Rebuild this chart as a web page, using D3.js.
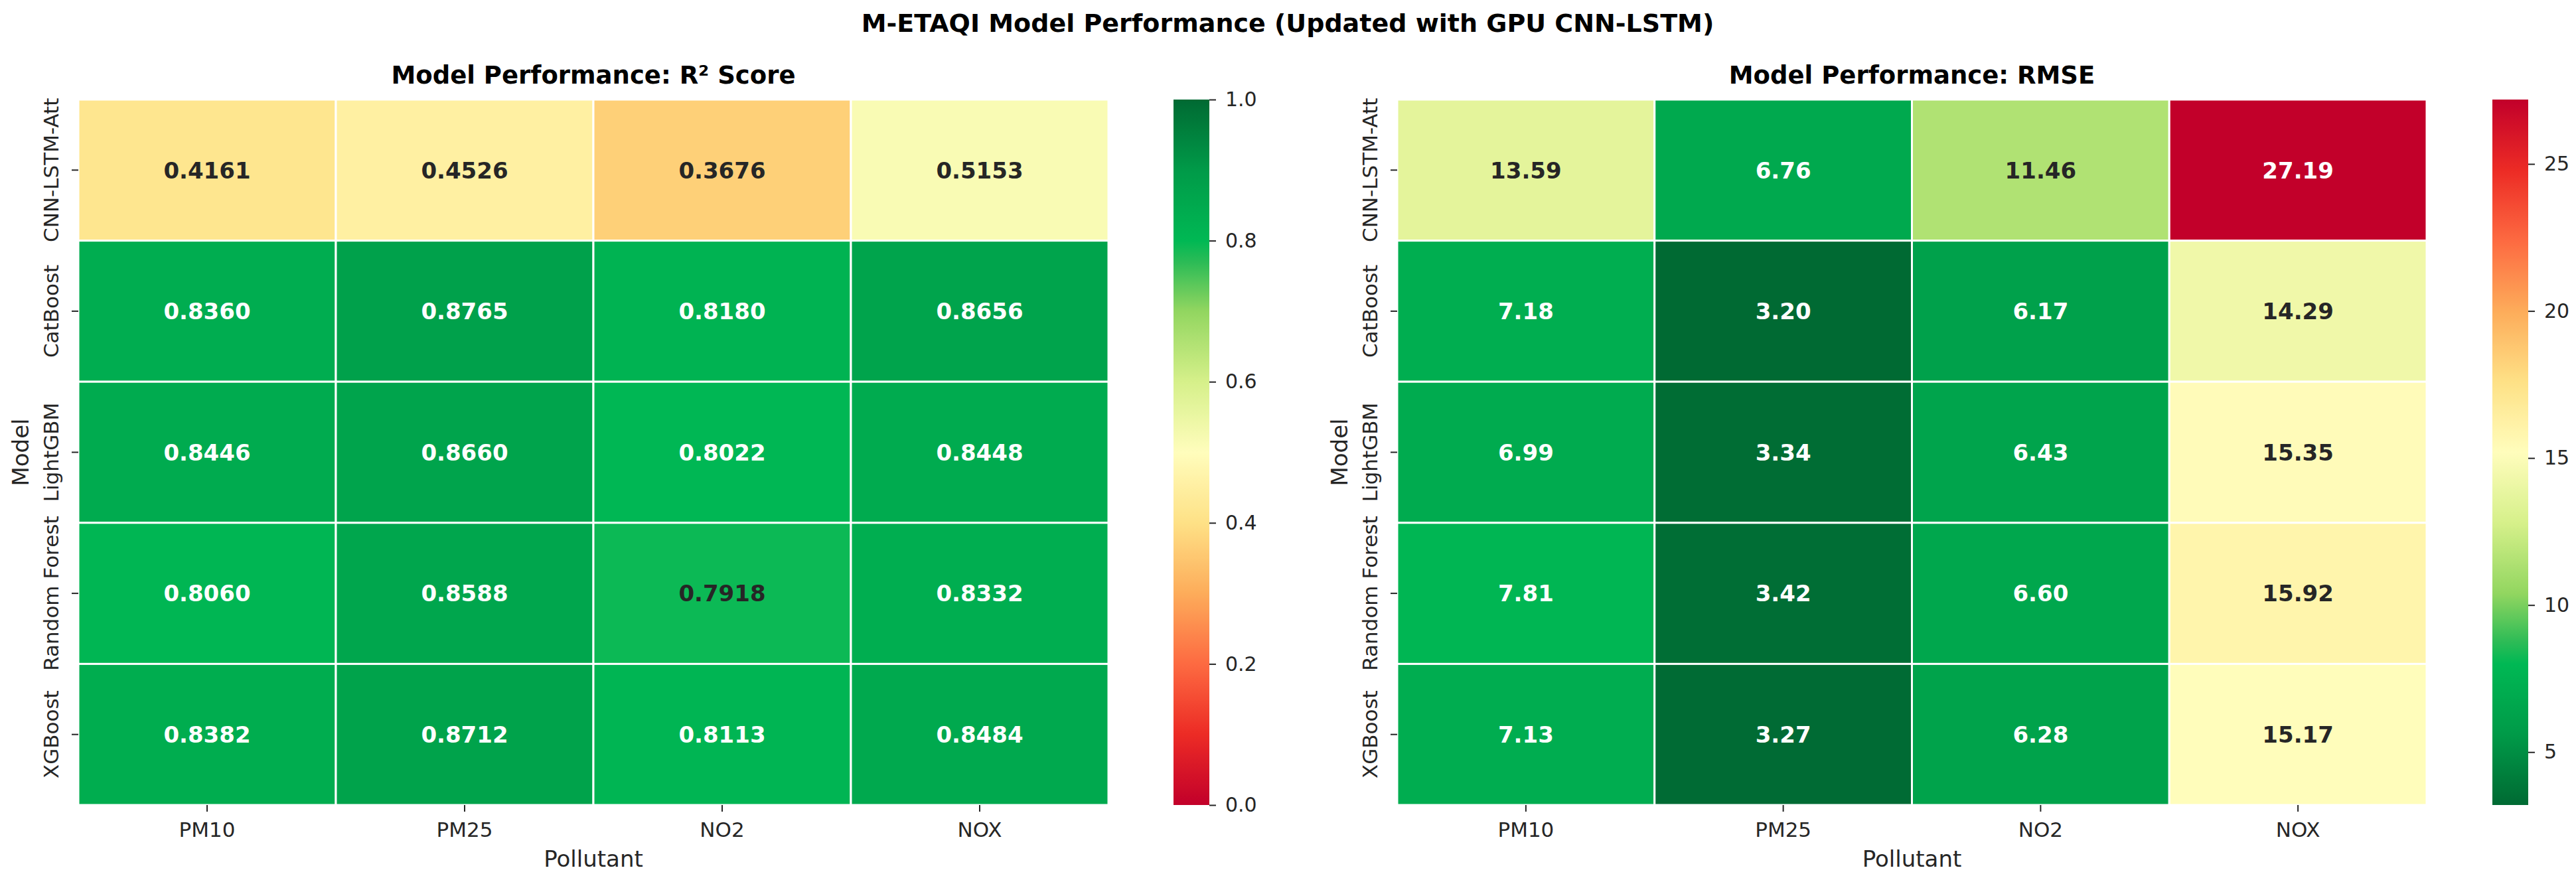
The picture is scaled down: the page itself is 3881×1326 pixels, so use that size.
<!DOCTYPE html>
<html><head><meta charset="utf-8">
<script src="https://cdn.jsdelivr.net/npm/d3@7"></script>
<style>
body{margin:0;background:#fff}
svg{display:block}
text{font-family:"DejaVu Sans",sans-serif}
</style>
</head><body>
<svg id="chart" width="3881" height="1326"></svg>
<script>
// ---------- DATA ----------
const models = ["CNN-LSTM-Att", "CatBoost", "LightGBM", "Random Forest", "XGBoost"];
const pollutants = ["PM10", "PM25", "NO2", "NOX"];
const r2Values = [
  [0.4161, 0.4526, 0.3676, 0.5153],
  [0.8360, 0.8765, 0.8180, 0.8656],
  [0.8446, 0.8660, 0.8022, 0.8448],
  [0.8060, 0.8588, 0.7918, 0.8332],
  [0.8382, 0.8712, 0.8113, 0.8484]
];
const rmseValues = [
  [13.59, 6.76, 11.46, 27.19],
  [7.18, 3.20, 6.17, 14.29],
  [6.99, 3.34, 6.43, 15.35],
  [7.81, 3.42, 6.60, 15.92],
  [7.13, 3.27, 6.28, 15.17]
];
const r2Ticks = [0.0, 0.2, 0.4, 0.6, 0.8, 1.0];
const rmseTicks = [5, 10, 15, 20, 25];
const suptitle = "M-ETAQI Model Performance (Updated with GPU CNN-LSTM)";
const titles = ["Model Performance: R\u00B2 Score", "Model Performance: RMSE"];
const xLabel = "Pollutant";
const yLabel = "Model";

// ---------- COLOR ----------
// RdYlGn reference stops (used for annotation colour choice, as seaborn does)
const baseStops = ["#a50026","#d73027","#f46d43","#fdae61","#fee08b","#ffffbf","#d9ef8b","#a6d96a","#66bd63","#1a9850","#006837"];
const baseBreaks = d3.range(11).map(i => i / 10);
// colours as they appear in the picture
const shownStops = ["#c2002a","#ec2b25","#fd6a41","#fdac5a","#fee186","#fffdbc","#d6f08a","#92d660","#2bbb56","#00b854","#009a48","#006a33"];
const shownBreaks = [0, 0.1, 0.2, 0.3, 0.4, 0.5, 0.6, 0.7, 0.77, 0.8, 0.9, 1];
const baseScale = d3.scaleLinear().domain(baseBreaks).range(baseStops).interpolate(d3.interpolateRgb).clamp(true);
const shownScale = d3.scaleLinear().domain(shownBreaks).range(shownStops).interpolate(d3.interpolateRgb).clamp(true);
function lum(c) {
  const r = d3.rgb(c);
  const f = v => { v /= 255; return v <= 0.03928 ? v / 12.92 : Math.pow((v + 0.055) / 1.055, 2.4); };
  return 0.2126 * f(r.r) + 0.7152 * f(r.g) + 0.0722 * f(r.b);
}

const svg = d3.select("#chart");

svg.append("text").attr("x", 1940).attr("y", 48).attr("text-anchor", "middle")
  .attr("font-size", 38).attr("font-weight", "bold").attr("fill", "#000").text(suptitle);

const yTop = 150, yBottom = 1213;
const panels = [
  {x0: 118, x1: 1670, cb0: 1768, values: r2Values, vmin: 0, vmax: 1, reverse: false,
   ticks: r2Ticks, fmt: d3.format(".1f"), dec: 4, title: titles[0]},
  {x0: 2105, x1: 3656, cb0: 3755, values: rmseValues,
   vmin: d3.min(rmseValues.flat()), vmax: d3.max(rmseValues.flat()), reverse: true,
   ticks: rmseTicks, fmt: d3.format("d"), dec: 2, title: titles[1]}
];

panels.forEach((p, pi) => {
  const g = svg.append("g");
  const x = d3.scaleBand().domain(pollutants).range([p.x0, p.x1]).padding(0);
  const y = d3.scaleBand().domain(models).range([yTop, yBottom]).padding(0);
  const norm = d3.scaleLinear().domain([p.vmin, p.vmax]).range(p.reverse ? [1, 0] : [0, 1]).clamp(true);

  const cells = [];
  p.values.forEach((row, i) => row.forEach((v, j) => cells.push({m: models[i], p: pollutants[j], v})));

  g.selectAll("rect.cell").data(cells).enter().append("rect")
    .attr("class", "cell")
    .attr("x", d => x(d.p)).attr("y", d => y(d.m))
    .attr("width", x.bandwidth()).attr("height", y.bandwidth())
    .attr("fill", d => shownScale(norm(d.v)))
    .attr("stroke", "#fff").attr("stroke-width", 3);

  g.selectAll("text.annot").data(cells).enter().append("text")
    .attr("class", "annot")
    .attr("x", d => x(d.p) + x.bandwidth() / 2)
    .attr("y", d => y(d.m) + y.bandwidth() / 2)
    .attr("dy", "0.36em")
    .attr("text-anchor", "middle").attr("font-size", 34).attr("font-weight", "bold")
    .attr("fill", d => lum(baseScale(norm(d.v))) < 0.408 ? "#ffffff" : "#262626")
    .text(d => d.v.toFixed(p.dec));

  const xa = g.append("g").attr("transform", `translate(0,${yBottom})`)
    .call(d3.axisBottom(x).tickSize(10).tickSizeOuter(0));
  xa.select(".domain").remove();
  xa.selectAll(".tick line").attr("stroke", "#262626").attr("stroke-width", 2);
  xa.selectAll(".tick text").attr("y", 48).attr("dy", 0).attr("font-size", 31)
    .attr("fill", "#262626").attr("font-family", "DejaVu Sans");

  const ya = g.append("g").attr("transform", `translate(${p.x0},0)`)
    .call(d3.axisLeft(y).tickSize(10).tickSizeOuter(0));
  ya.select(".domain").remove();
  ya.selectAll(".tick line").attr("stroke", "#262626").attr("stroke-width", 2);
  ya.selectAll(".tick text").attr("x", 0).attr("y", 0).attr("dy", 0)
    .attr("transform", "translate(-30,0) rotate(-90)")
    .attr("text-anchor", "middle").attr("font-size", 31)
    .attr("fill", "#262626").attr("font-family", "DejaVu Sans");

  g.append("text").attr("x", (p.x0 + p.x1) / 2).attr("y", 1306).attr("text-anchor", "middle")
    .attr("font-size", 34).attr("fill", "#262626").text(xLabel);
  g.append("text").attr("transform", `translate(${p.x0 - 75},${(yTop + yBottom) / 2}) rotate(-90)`)
    .attr("text-anchor", "middle").attr("font-size", 34).attr("fill", "#262626").text(yLabel);
  g.append("text").attr("x", (p.x0 + p.x1) / 2).attr("y", 126).attr("text-anchor", "middle")
    .attr("font-size", 37).attr("font-weight", "bold").attr("fill", "#000").text(p.title);

  const cbW = 54;
  const gradId = "grad" + pi;
  const grad = svg.append("defs").append("linearGradient").attr("id", gradId)
    .attr("x1", 0).attr("y1", 1).attr("x2", 0).attr("y2", 0);
  d3.range(0, 201).forEach(k => {
    const t = k / 200;
    const v = p.vmin + t * (p.vmax - p.vmin);
    grad.append("stop").attr("offset", t).attr("stop-color", shownScale(norm(v)));
  });
  g.append("rect").attr("x", p.cb0).attr("y", yTop).attr("width", cbW).attr("height", yBottom - yTop)
    .attr("fill", `url(#${gradId})`);
  const cy = d3.scaleLinear().domain([p.vmin, p.vmax]).range([yBottom, yTop]);
  const ca = g.append("g").attr("transform", `translate(${p.cb0 + cbW},0)`)
    .call(d3.axisRight(cy).tickValues(p.ticks).tickFormat(p.fmt).tickSize(10).tickPadding(14));
  ca.select(".domain").remove();
  ca.selectAll(".tick line").attr("stroke", "#262626").attr("stroke-width", 2);
  ca.selectAll(".tick text").attr("font-size", 30).attr("fill", "#262626").attr("font-family", "DejaVu Sans");
});
</script>
</body></html>
